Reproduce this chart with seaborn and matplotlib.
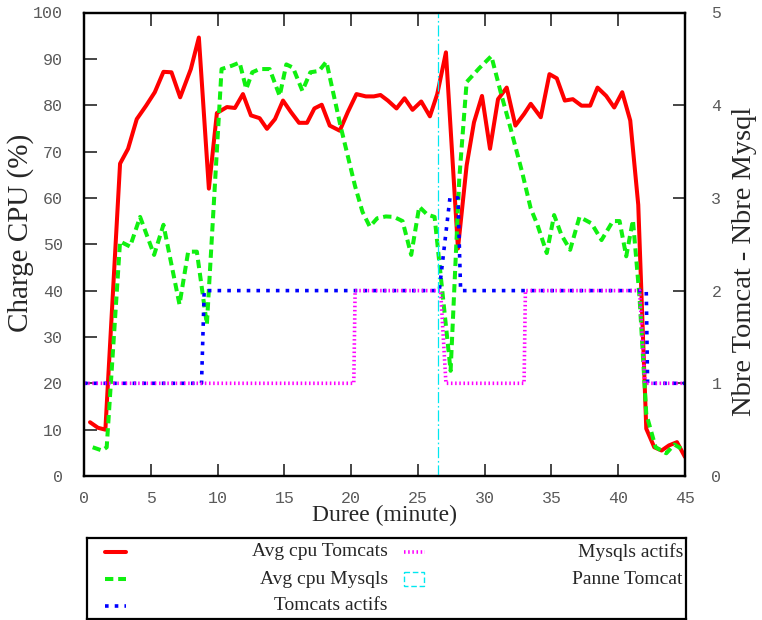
import matplotlib
matplotlib.use('Agg')
import matplotlib.pyplot as plt
from matplotlib.lines import Line2D
from matplotlib.patches import Rectangle
import seaborn as sns

# avg cpu of the tomcat servers (%)
t_tomcat = [0.45, 1.05, 1.6, 2.7, 3.3, 3.95, 4.65, 5.3, 5.95, 6.55,
            7.2, 8.0, 8.6, 9.35, 9.95, 10.7, 11.3, 11.9, 12.5, 13.15,
            13.7, 14.3, 14.9, 15.5, 16.1, 16.7, 17.25, 17.8, 18.4, 19.15,
            19.75, 20.4, 21.1, 21.7, 22.2, 22.75, 23.4, 24.0, 24.6, 25.25,
            25.9, 26.45, 27.1, 28.0, 28.65, 29.2, 29.8, 30.4, 31.0, 31.65,
            32.3, 32.95, 33.45, 34.2, 34.85, 35.4, 36.0, 36.6, 37.25, 37.9,
            38.45, 39.1, 39.7, 40.3, 40.9, 41.5, 42.1, 42.7, 43.25, 43.8,
            44.4, 45.0]
cpu_tomcat = [11.6, 10.4, 10.0, 67.4, 70.6, 77.0, 79.9, 82.8, 87.2, 87.1,
              81.7, 87.8, 94.6, 62.0, 78.3, 79.6, 79.4, 82.4, 77.8, 77.2,
              74.9, 77.0, 81.0, 78.5, 76.2, 76.2, 79.3, 80.1, 75.6, 74.5,
              78.5, 82.4, 81.9, 81.9, 82.2, 81.0, 79.3, 81.5, 79.0, 80.8,
              77.6, 82.4, 91.4, 49.1, 67.0, 76.3, 82.0, 70.6, 81.3, 83.8,
              75.6, 78.1, 80.3, 77.4, 86.7, 85.8, 81.0, 81.3, 79.9, 79.9,
              83.8, 82.0, 79.5, 82.8, 76.7, 58.5, 10.2, 6.2, 5.5, 6.6,
              7.3, 4.1]

# avg cpu of the mysql servers (%)
t_mysql = [0.65, 1.35, 1.7, 2.7, 3.45, 4.2, 5.25, 5.95, 7.15, 7.8,
           8.45, 9.2, 10.3, 11.05, 11.65, 12.15, 12.6, 13.15, 13.9, 14.65,
           15.15, 15.65, 16.35, 16.95, 17.6, 18.15, 19.2, 20.3, 20.85, 21.4,
           21.95, 22.6, 23.2, 23.85, 24.5, 25.1, 25.7, 26.25, 27.45, 28.1,
           28.65, 29.6, 30.5, 31.2, 31.95, 32.8, 33.45, 33.95, 34.65, 35.2,
           35.75, 36.4, 37.1, 38.0, 38.75, 39.6, 40.1, 40.6, 41.1, 41.6,
           42.1, 42.8, 43.6, 44.2, 44.95]
cpu_mysql = [6.2, 5.5, 6.2, 50.6, 49.5, 55.9, 47.7, 54.2, 37.0, 48.4,
             48.4, 32.7, 87.8, 88.5, 89.2, 83.5, 87.1, 87.8, 87.8, 82.0,
             88.8, 88.1, 83.1, 87.1, 87.4, 89.4, 75.6, 62.5, 57.0, 53.8,
             55.6, 56.0, 55.9, 55.0, 47.7, 58.1, 56.4, 55.9, 22.7, 64.2,
             85.0, 88.0, 90.6, 82.8, 74.9, 65.6, 57.7, 54.2, 48.1, 56.3,
             52.0, 48.8, 55.9, 54.5, 50.9, 55.0, 55.0, 47.4, 55.2, 38.4,
             13.4, 6.2, 4.9, 6.8, 5.5]

# number of active servers (right axis)
t_tomcat_nb = [0, 8.8, 9.0, 26.6, 27.4, 28.0, 28.2, 42.1, 42.2, 45]
nb_tomcat = [1, 1, 2, 2, 3, 3, 2, 2, 1, 1]
t_mysql_nb = [0, 20.2, 20.3, 26.7, 27.1, 32.95, 33.05, 41.6, 42.0, 45]
nb_mysql = [1, 1, 2, 2, 1, 1, 2, 2, 1, 1]

panne_tomcat = 26.5

labels = ['Avg cpu Tomcats', 'Avg cpu Mysqls', 'Tomcats actifs',
          'Mysqls actifs', 'Panne Tomcat']

sns.set_theme(style='white')
plt.rcParams['lines.scale_dashes'] = False
plt.rcParams['font.family'] = ['Liberation Serif', 'DejaVu Serif']

styles = [
    dict(color='#ff0000', lw=2.9, ls='-'),
    dict(color='#10f010', lw=2.9, ls=(0, (6, 3.5))),
    dict(color='#0000ff', lw=2.6, ls=(0, (2.6, 4.4))),
    dict(color='#ff00ff', lw=2.6, ls=(0, (1.1, 1.9))),
    dict(color='#00e8f0', lw=0.9, ls=(0, (8, 2, 1.2, 2))),
]

W, H = 762, 620
fig = plt.figure(figsize=(W / 100, H / 100), dpi=100)
ax = fig.add_axes([84 / W, 144 / H, 601 / W, 463.5 / H])
ax2 = ax.twinx()

sns.lineplot(x=t_tomcat, y=cpu_tomcat, ax=ax, estimator=None, sort=False,
             color=styles[0]['color'], lw=styles[0]['lw'], linestyle=styles[0]['ls'])
sns.lineplot(x=t_mysql, y=cpu_mysql, ax=ax, estimator=None, sort=False,
             color=styles[1]['color'], lw=styles[1]['lw'], linestyle=styles[1]['ls'])
sns.lineplot(x=t_tomcat_nb, y=nb_tomcat, ax=ax2, estimator=None, sort=False,
             color=styles[2]['color'], lw=styles[2]['lw'], linestyle=styles[2]['ls'])
sns.lineplot(x=t_mysql_nb, y=nb_mysql, ax=ax2, estimator=None, sort=False,
             color=styles[3]['color'], lw=styles[3]['lw'], linestyle=styles[3]['ls'])
ax2.axvline(panne_tomcat, color=styles[4]['color'], lw=styles[4]['lw'],
            linestyle=styles[4]['ls'])

ax.set_xlim(0, 45)
ax.set_ylim(0, 100)
ax2.set_ylim(0, 5)
ax.set_xticks(range(0, 46, 5))
ax.set_yticks(range(0, 101, 10))
ax2.set_yticks(range(0, 6))

tick_font = dict(labelsize=12, labelcolor='#5a5a5a', labelfontfamily='Liberation Mono')
ax.tick_params(axis='x', direction='in', length=9, width=1.2, top=True,
               bottom=True, pad=11, **tick_font)
ax.tick_params(axis='y', direction='in', length=9, width=1.2, left=True,
               right=False, pad=15, **tick_font)
ax2.tick_params(axis='y', direction='in', length=9, width=1.2, right=True,
                pad=19, **tick_font)

for a in (ax, ax2):
    for sp in a.spines.values():
        sp.set_color('black')
        sp.set_linewidth(1.6)

ax.set_xlabel('Duree (minute)', fontsize=17, labelpad=-1)
ax.set_ylabel('Charge CPU (%)', fontsize=21)
ax2.set_ylabel('Nbre Tomcat - Nbre Mysql', fontsize=20.5)
ax.yaxis.set_label_coords(-0.083, 0.525)
ax2.yaxis.set_label_coords(1.078, 0.462)

# legend drawn by hand: handle on the left, label right-aligned
lax = fig.add_axes([87 / W, 1 / H, 599 / W, 81 / H])
lax.set_xlim(0, 599)
lax.set_ylim(81, 0)
lax.set_xticks([])
lax.set_yticks([])
for sp in lax.spines.values():
    sp.set_color('black')
    sp.set_linewidth(1.6)

col_handle = [18, 317]
col_text = [301, 596]
row_y = [14, 41, 68]
for i, lab in enumerate(labels):
    c, r = (0, i) if i < 3 else (1, i - 3)
    x0 = col_handle[c]
    y = row_y[r]
    st = styles[i]
    if i == 4:
        lax.add_patch(Rectangle((x0, y - 7), 20, 14, fill=False, ec=st['color'],
                                lw=1.0, ls=(0, (4, 2))))
    else:
        lax.add_line(Line2D([x0, x0 + 21], [y, y], color=st['color'], lw=st['lw'],
                            ls=st['ls']))
    lax.text(col_text[c], y, lab, ha='right', va='center', fontsize=14)

fig.savefig('out.png', dpi=100)
